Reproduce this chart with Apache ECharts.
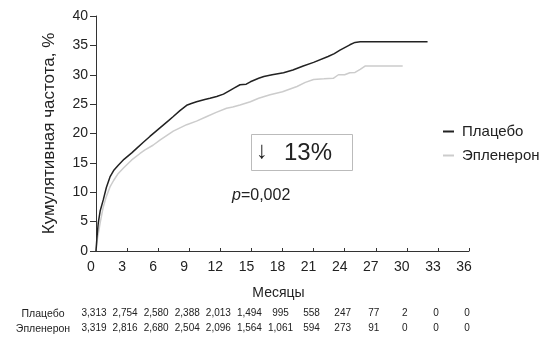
<!DOCTYPE html>
<html><head><meta charset="utf-8">
<script src="https://cdn.jsdelivr.net/npm/echarts@6/dist/echarts.min.js"></script>
<style>html,body{margin:0;padding:0;background:#fff}#c{width:555px;height:343px}</style>
</head><body><div id="c"></div>
<script>
var placeboMonths = [0, 0.1, 0.22, 0.4, 0.7, 1.0, 1.35, 1.7, 2.15, 2.7, 3.45, 4.0, 4.57, 5.2, 6.2, 7.0, 7.46, 8.1, 8.75, 9.2, 9.7, 10.5, 11.0, 11.65, 12.3, 12.9, 13.4, 13.9, 14.5, 14.9, 15.7, 16.2, 17.0, 18.1, 19.0, 20.0, 21.0, 22.4, 23.0, 23.55, 24.5, 25.0, 25.5, 27.4, 30, 32];
var placeboRate = [0, 2.5, 4.8, 6.8, 8.7, 10.8, 12.6, 13.7, 14.6, 15.6, 16.7, 17.6, 18.5, 19.5, 21.0, 22.2, 22.9, 23.9, 24.8, 25.1, 25.4, 25.8, 26.0, 26.3, 26.7, 27.3, 27.8, 28.3, 28.4, 28.8, 29.4, 29.7, 30.0, 30.35, 30.8, 31.5, 32.1, 33.1, 33.6, 34.2, 35.1, 35.5, 35.6, 35.6, 35.6, 35.6];
var eplerenoneMonths = [0, 0.15, 0.4, 0.7, 1.0, 1.35, 1.7, 2.15, 2.7, 3.45, 4.25, 4.73, 5.5, 6.2, 7.46, 8.75, 9.7, 10.7, 11.6, 12.6, 13.2, 13.9, 14.9, 15.7, 16.8, 18.0, 19.4, 20.2, 21.0, 22.0, 22.9, 23.4, 24.0, 24.5, 25.0, 25.5, 26.0, 27.4, 29.6];
var eplerenoneRate = [0, 2.2, 4.8, 7.5, 9.3, 10.9, 12.0, 13.2, 14.2, 15.5, 16.6, 17.2, 18.0, 18.9, 20.4, 21.5, 22.1, 22.9, 23.6, 24.3, 24.5, 24.85, 25.4, 26.0, 26.6, 27.1, 28.0, 28.7, 29.2, 29.3, 29.4, 30.0, 30.0, 30.35, 30.4, 30.9, 31.5, 31.5, 31.5];
var atRiskMonths = [0, 3, 6, 9, 12, 15, 18, 21, 24, 27, 30, 33, 36];
var atRiskPlacebo = ['3,313', '2,754', '2,580', '2,388', '2,013', '1,494', '995', '558', '247', '77', '2', '0', '0'];
var atRiskEplerenone = ['3,319', '2,816', '2,680', '2,504', '2,096', '1,564', '1,061', '594', '273', '91', '0', '0', '0'];
var seriesNames = ['Плацебо', 'Эпленерон'];
var yTicks = [0, 5, 10, 15, 20, 25, 30, 35, 40];

function pairs(xs, ys) { return xs.map(function (x, i) { return [x, ys[i]]; }); }
function rowFormatter(arr) { return function (v) { var i = atRiskMonths.indexOf(v); return i >= 0 ? arr[i] : ''; }; }

var FONT = 'Liberation Sans, Arial, Helvetica, sans-serif';
var chart = echarts.init(document.getElementById('c'), null, { renderer: 'canvas' });
var baseX = { type: 'value', min: 0, max: 36, interval: 3, gridIndex: 0 };
chart.setOption({
  animation: false,
  textStyle: { fontFamily: FONT },
  grid: { left: 96, right: 86, top: 16, bottom: 92, containLabel: false },
  legend: {
    orient: 'vertical', left: 443, top: 124, itemGap: 9, padding: 0,
    icon: 'rect', itemWidth: 11, itemHeight: 2,
    textStyle: { fontFamily: FONT, fontSize: 15, color: '#222', padding: [0, 0, 0, 3] },
    data: seriesNames
  },
  xAxis: [
    Object.assign({}, baseX, {
      name: 'Месяцы', nameLocation: 'middle', nameGap: 35,
      nameTextStyle: { fontFamily: FONT, fontSize: 14, color: '#222', padding: [0, 8, 0, 0] },
      axisLine: { lineStyle: { color: '#333', width: 1 } },
      axisTick: { show: true, inside: true, length: 3, lineStyle: { color: '#333' } },
      axisLabel: { fontFamily: FONT, fontSize: 14, color: '#222', margin: 9, padding: [0, 10, 0, 0] },
      splitLine: { show: false }
    }),
    Object.assign({}, baseX, {
      position: 'bottom', offset: 57,
      axisLine: { show: false }, axisTick: { show: false }, splitLine: { show: false },
      axisLabel: { fontFamily: FONT, fontSize: 10, color: '#222', margin: 0, padding: [0, 4, 0, 0], formatter: rowFormatter(atRiskPlacebo) }
    }),
    Object.assign({}, baseX, {
      position: 'bottom', offset: 72,
      axisLine: { show: false }, axisTick: { show: false }, splitLine: { show: false },
      axisLabel: { fontFamily: FONT, fontSize: 10, color: '#222', margin: 0, padding: [0, 4, 0, 0], formatter: rowFormatter(atRiskEplerenone) }
    })
  ],
  yAxis: {
    type: 'value', min: yTicks[0], max: yTicks[yTicks.length - 1], interval: 5,
    name: 'Кумулятивная частота, %', nameLocation: 'middle', nameGap: 38,
    nameTextStyle: { fontFamily: FONT, fontSize: 17, color: '#222' },
    axisLine: { show: true, lineStyle: { color: '#333', width: 1 } },
    axisTick: { show: true, length: 6, lineStyle: { color: '#333' } },
    axisLabel: { fontFamily: FONT, fontSize: 14, color: '#222', margin: 8 },
    splitLine: { show: false }
  },
  series: [
    { name: seriesNames[0], type: 'line', symbol: 'none', data: pairs(placeboMonths, placeboRate),
      lineStyle: { color: '#222', width: 1.5 }, itemStyle: { color: '#222' }, z: 3 },
    { name: seriesNames[1], type: 'line', symbol: 'none', data: pairs(eplerenoneMonths, eplerenoneRate),
      lineStyle: { color: '#cccccc', width: 1.5 }, itemStyle: { color: '#cccccc' }, z: 2 }
  ],
  graphic: [
    { type: 'rect', left: 251, top: 134, shape: { width: 101, height: 36 },
      style: { fill: '#fff', stroke: '#bbb', lineWidth: 1 } },
    { type: 'text', left: 256, top: 139, style: { text: '↓', font: '24px ' + FONT, fill: '#222' } },
    { type: 'text', left: 284, top: 141, style: { text: '13%', font: '24px ' + FONT, fill: '#222' } },
    { type: 'text', left: 232, top: 188, style: { rich: { i: { fontStyle: 'italic', fontSize: 16, fontFamily: FONT, fill: '#222' }, n: { fontSize: 16, fontFamily: FONT, fill: '#222' } }, text: '{i|p}{n|=0,002}' } },
    { type: 'text', x: 43, y: 314, style: { text: seriesNames[0], font: '10.5px ' + FONT, fill: '#222', align: 'center', verticalAlign: 'middle' } },
    { type: 'text', x: 43, y: 329, style: { text: seriesNames[1], font: '10.5px ' + FONT, fill: '#222', align: 'center', verticalAlign: 'middle' } }
  ]
});
</script></body></html>
